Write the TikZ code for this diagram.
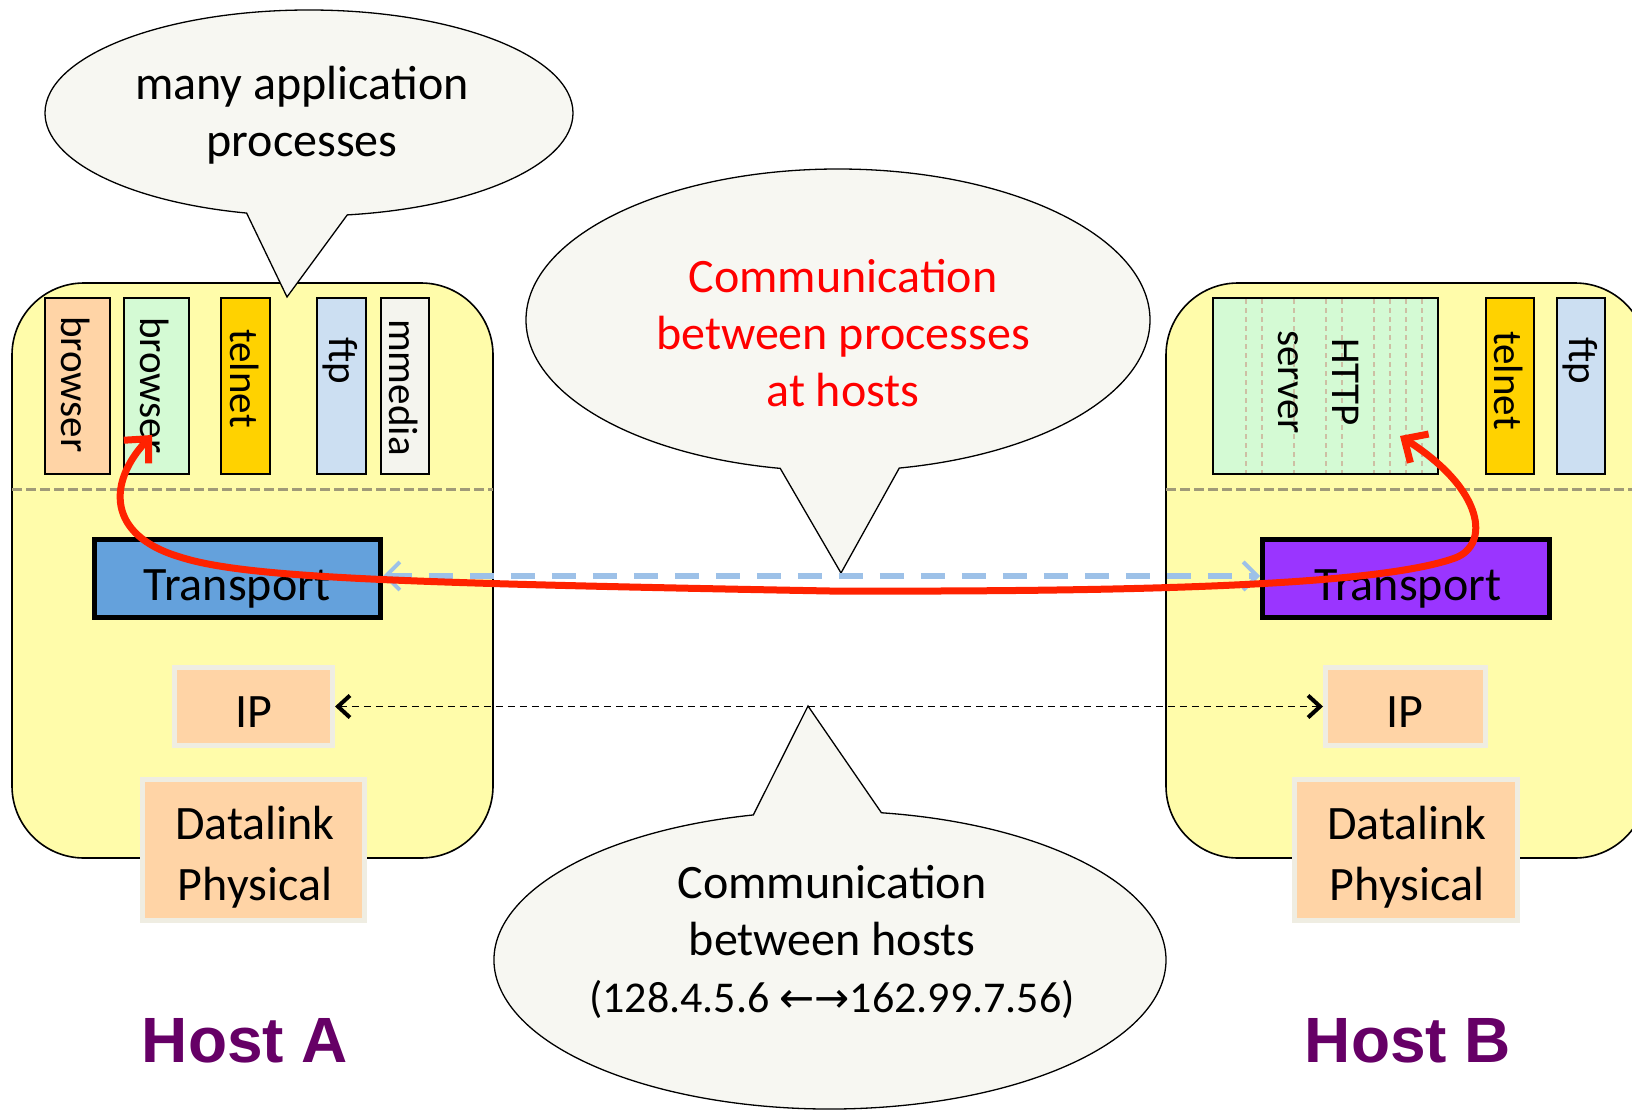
\documentclass[tikz,border=0pt]{standalone}
\usepackage{fontspec}
\setmainfont{Carlito}
\newfontfamily\hostfont{Liberation Sans}
\newfontfamily\arrowfont{DejaVu Sans}
\usetikzlibrary{shapes.callouts,shapes.geometric,arrows.meta}
\definecolor{hostyellow}{HTML}{FFFCAA}
\definecolor{peach}{HTML}{FFD4A6}
\definecolor{ltgreen}{HTML}{D4FAD4}
\definecolor{gold}{HTML}{FFD200}
\definecolor{ltblue}{HTML}{CCDFF2}
\definecolor{ltgray}{HTML}{F4F4EE}
\definecolor{cream}{HTML}{EFEDE2}
\definecolor{tblue}{HTML}{64A1DC}
\definecolor{tpurple}{HTML}{9A35FF}
\definecolor{dashblue}{HTML}{9DC1E8}
\definecolor{arrred}{HTML}{FF2200}
\definecolor{callfill}{HTML}{F7F7F2}
\definecolor{sepcol}{HTML}{A09A78}
\definecolor{tanline}{HTML}{CDBFA4}
\definecolor{hostpurple}{HTML}{660066}
\begin{document}
\begin{tikzpicture}[x=1pt,y=-1pt,
  every node/.style={inner sep=0pt},
  hostbox/.style={draw=black, line width=1.6pt, fill=hostyellow, rounded corners=72pt, minimum width=481pt, minimum height=575pt},
  appbox/.style={draw=black, line width=1.5pt, minimum height=176pt},
  applabel/.style={rotate=-90, anchor=west, font=\fontsize{41pt}{48pt}\selectfont},
  layerbox/.style={draw=black, line width=5pt},
  lowbox/.style={draw=cream, line width=5pt, fill=peach},
  lbl/.style={font=\fontsize{48pt}{57pt}\selectfont, align=center},
  callbox/.style={ellipse callout, draw=black, line width=1.3pt, fill=callfill, callout pointer arc=22},
  sepline/.style={draw=sepcol, line width=3pt, dash pattern=on 10pt off 4pt},
  hostlbl/.style={font=\hostfont\bfseries\fontsize{64pt}{70pt}\selectfont, text=hostpurple, anchor=base},
  redarrow/.style={draw=arrred, line width=7pt, line cap=round, {Straight Barb[length=18pt,width=34pt]}-{Straight Barb[length=18pt,width=34pt]}},
  bluearrow/.style={draw=dashblue, line width=6pt, dash pattern=on 24pt off 17pt, {Straight Barb[length=14pt,width=28pt,line width=4pt]}-{Straight Barb[length=14pt,width=28pt,line width=4pt]}},
  dotarrow/.style={draw=black, line width=1.6pt, dash pattern=on 7pt off 5pt, {Straight Barb[length=12pt,width=22pt,line width=4pt]}-{Straight Barb[length=12pt,width=22pt,line width=4pt]}}
]
\clip (0,0) rectangle (1632,1110);
\fill[white] (0,0) rectangle (1632,1110);

% hosts
\node[hostbox] (hostA) at (252.5,570.5) {};
\node[hostbox] (hostB) at (1406.5,570.5) {};
\draw[sepline] (12,489) -- (493,489);
\draw[sepline] (1166,489) -- (1647,489);

% callout 1
\node[callbox, minimum width=528pt, minimum height=206pt, callout absolute pointer={(287,297)}] (c1) at (309,113) {};
\node[lbl, anchor=base] (c1t) at (302,157) {many application\\processes};

% Host A application boxes
\node[appbox, fill=peach, minimum width=65pt] (bA1) at (77.5,386) {};
\node[appbox, fill=ltgreen, minimum width=65pt] (bA2) at (156.5,386) {};
\node[appbox, fill=gold, minimum width=49pt] (tA) at (245.5,386) {};
\node[appbox, fill=ltblue, minimum width=49pt] (fA) at (341.5,386) {};
\node[appbox, fill=ltgray, minimum width=48pt] (mA) at (405,386) {};
\node[applabel] (bA1t) at (76,316) {browser};
\node[applabel] (bA2t) at (155,317) {browser};
\node[applabel] (tAt) at (245,329) {telnet};
\node[applabel] (fAt) at (340,337) {ftp};
\node[applabel] (mAt) at (404,319) {mmedia};

% Host B application boxes
\node[appbox, fill=ltgreen, minimum width=225pt] (http) at (1325.5,386) {};
\foreach \xx in {1246,1262,1294,1326,1342,1374,1390,1406,1422}
  \draw[tanline, line width=1.3pt, dash pattern=on 5pt off 4pt] (\xx,299) -- (\xx,473);
\node[appbox, fill=gold, minimum width=48pt] (tB) at (1510,386) {};
\node[appbox, fill=ltblue, minimum width=48pt] (fB) at (1581,386) {};
\node[rotate=-90, font=\fontsize{41pt}{54pt}\selectfont, align=center] (httpt) at (1318,382) {HTTP\\server};
\node[applabel] (tBt) at (1509,331) {telnet};
\node[applabel] (fBt) at (1580,337) {ftp};

% layer boxes
\node[layerbox, fill=tblue, minimum width=286pt, minimum height=78pt] (trA) at (237.5,578.5) {};
\node[layerbox, fill=tpurple, minimum width=287pt, minimum height=78pt] (trB) at (1406,578.5) {};
\node[lbl, anchor=base] (trAt) at (237,600) {Transport};
\node[lbl, anchor=base] (trBt) at (1408,600) {Transport};

\node[lowbox, minimum width=158pt, minimum height=78pt] (ipA) at (253.5,706.5) {};
\node[lowbox, minimum width=160pt, minimum height=78pt] (ipB) at (1405.5,706.5) {};
\node[lbl, anchor=base] (ipAt) at (254,727) {IP};
\node[lbl, anchor=base] (ipBt) at (1405,727) {IP};

\node[lowbox, minimum width=222pt, minimum height=141pt] (dlA) at (253.5,850) {};
\node[lowbox, minimum width=223pt, minimum height=141pt] (dlB) at (1406,850) {};
\node[lbl, anchor=base, font=\fontsize{48pt}{61pt}\selectfont] (dlAt) at (255,900) {Datalink\\Physical};
\node[lbl, anchor=base, font=\fontsize{48pt}{61pt}\selectfont] (dlBt) at (1407,900) {Datalink\\Physical};

% callout 2
\node[callbox, minimum width=624pt, minimum height=302pt, callout absolute pointer={(841,573)}] (c2) at (838,320) {};
\node[lbl, anchor=base, text=red] (c2t) at (843,406) {Communication\\between processes\\at hosts};

% callout 3
\node[callbox, minimum width=672pt, minimum height=298pt, callout absolute pointer={(808,706)}] (c3) at (830,960) {};
\node[lbl, anchor=base] (c3t) at (832,1012) {Communication\\between hosts\\{\fontsize{44pt}{57pt}\selectfont(128.4.5.6 {\arrowfont\fontsize{42pt}{57pt}\selectfont ←→}162.99.7.56)}};

% connectors
\draw[bluearrow] ([yshift=2.5pt]trA.east) -- ([yshift=2.5pt]trB.west);
\draw[dotarrow] (ipA.east) -- (ipB.west);
\coordinate (rA) at (152,435);
\coordinate (rB) at (1400,436);
\draw[redarrow] (rA) .. controls (108,482) and (106,535) .. (180,557)
  .. controls (245,578) and (400,583) .. (830,591)
  .. controls (1150,592) and (1380,585) .. (1455,558)
  .. controls (1490,545) and (1485,490) .. (rB);

% host labels
\node[hostlbl] (hA) at (245,1062) {Host A};
\node[hostlbl] (hB) at (1408,1062) {Host B};
\end{tikzpicture}
\end{document}
